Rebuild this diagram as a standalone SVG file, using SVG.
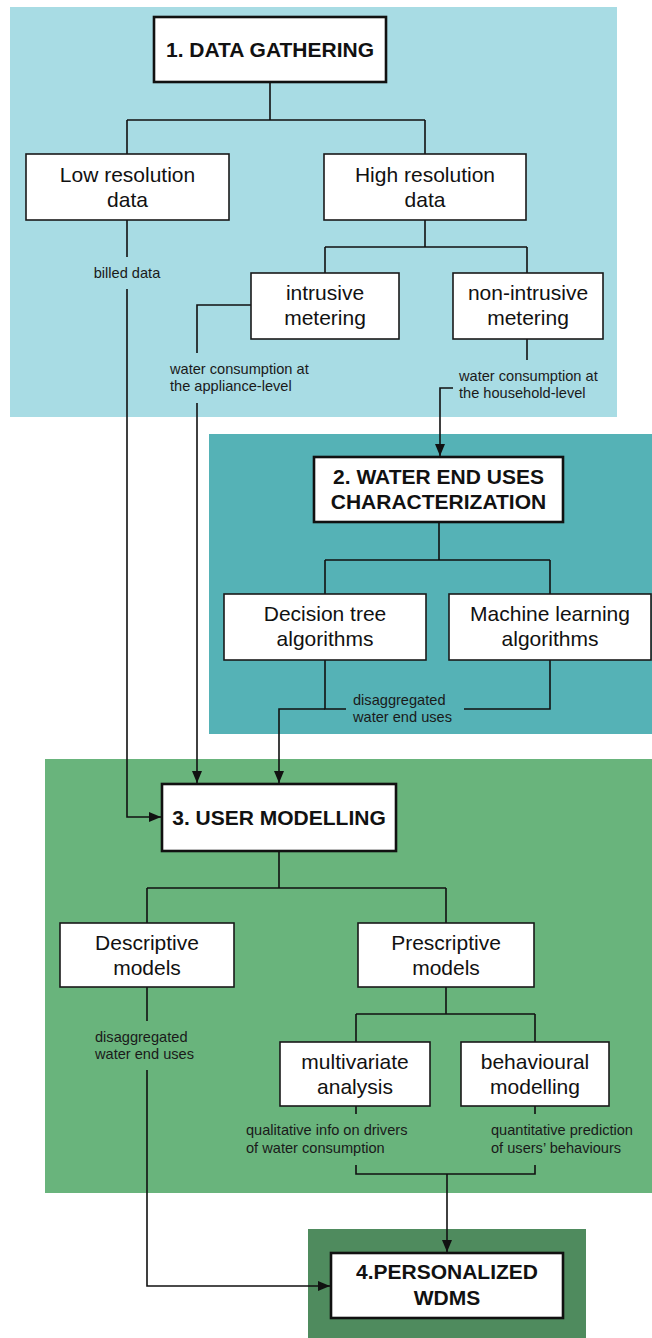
<svg xmlns="http://www.w3.org/2000/svg" width="652" height="1338" viewBox="0 0 652 1338">
  <style>
    .panel { stroke: none; }
    .box { fill: #ffffff; stroke: #1a1a1a; stroke-width: 1.6; }
    .title-box { fill: #ffffff; stroke: #111111; stroke-width: 2.6; }
    .txt { font-family: "Liberation Sans", Arial, Helvetica, sans-serif; font-size: 21px; fill: #111111; text-anchor: middle; }
    .title { font-family: "Liberation Sans", Arial, Helvetica, sans-serif; font-size: 21px; font-weight: bold; fill: #111111; text-anchor: middle; }
    .lbl { font-family: "Liberation Sans", Arial, Helvetica, sans-serif; font-size: 14.6px; fill: #1a1a1a; }
    .wire { fill: none; stroke: #111111; stroke-width: 1.6; }
    .arrow { fill: none; stroke: #111111; stroke-width: 1.6; marker-end: url(#head); }
  </style>
  <defs>
    <marker id="head" viewBox="0 0 12 10" markerWidth="12" markerHeight="10" refX="12" refY="5" markerUnits="userSpaceOnUse" orient="auto">
      <path d="M0,0 L12,5 L0,10 z" fill="#111111"/>
    </marker>
  </defs>

  <!-- stage backgrounds -->
  <g id="stages">
    <rect class="panel" x="10" y="7" width="607" height="410" fill="#A8DCE4"/>
    <rect class="panel" x="209" y="434" width="443" height="300" fill="#55B2B6"/>
    <rect class="panel" x="45" y="759" width="607" height="434" fill="#69B47C"/>
    <rect class="panel" x="308" y="1229" width="278" height="109" fill="#4F8B5E"/>
  </g>

  <!-- connectors and flow labels -->
  <g id="connectors">
    <!-- stage 1 tree -->
    <path class="wire" d="M270,82 V120 M127,120 H425 M127,120 V154 M425,120 V154"/>
    <path class="wire" d="M425,220 V247 M325,247 H527 M325,247 V273 M527,247 V273"/>
    <!-- billed data -->
    <path class="wire" d="M127,220 V257"/>
    <path class="arrow" d="M127,289 V817 H161"/>
    <!-- appliance-level -->
    <path class="wire" d="M251,305 H197 V353"/>
    <path class="arrow" d="M197,403 V783"/>
    <!-- household-level -->
    <path class="wire" d="M527,339 V360"/>
    <path class="arrow" d="M453,388 H440 V456"/>

    <!-- stage 2 tree -->
    <path class="wire" d="M439,522 V560 M325,560 H550 M325,560 V594 M550,560 V594"/>
    <path class="wire" d="M325,660 V709 H346"/>
    <path class="wire" d="M550,660 V709 H464"/>
    <path class="arrow" d="M325,709 H279 V783"/>

    <!-- stage 3 tree -->
    <path class="wire" d="M279,851 V888 M147,888 H446 M147,888 V923 M446,888 V923"/>
    <path class="wire" d="M446,987 V1014 M356,1014 H535 M356,1014 V1042 M535,1014 V1042"/>
    <path class="wire" d="M356,1106 V1114 M535,1106 V1114"/>
    <path class="wire" d="M356,1165 V1174 H535 V1165"/>
    <path class="arrow" d="M447,1174 V1252"/>
    <path class="wire" d="M147,987 V1021"/>
    <path class="arrow" d="M147,1070 V1286 H330"/>

    <text class="lbl" x="127" y="278" text-anchor="middle">billed data</text>
    <text class="lbl" x="170" y="374">water consumption at</text>
    <text class="lbl" x="170" y="391">the appliance-level</text>
    <text class="lbl" x="459" y="381">water consumption at</text>
    <text class="lbl" x="459" y="398">the household-level</text>
    <text class="lbl" x="353" y="705">disaggregated</text>
    <text class="lbl" x="353" y="722">water end uses</text>
    <text class="lbl" x="95" y="1042">disaggregated</text>
    <text class="lbl" x="95" y="1059">water end uses</text>
    <text class="lbl" x="246" y="1135">qualitative info on drivers</text>
    <text class="lbl" x="246" y="1153">of water consumption</text>
    <text class="lbl" x="491" y="1135">quantitative prediction</text>
    <text class="lbl" x="491" y="1153">of users’ behaviours</text>
  </g>

  <!-- stage 1 -->
  <g id="data-gathering">
    <rect class="title-box" x="154" y="17" width="232" height="65"/>
    <text class="title" x="270" y="57">1. DATA GATHERING</text>
  </g>
  <g id="low-resolution">
    <rect class="box" x="26" y="154" width="203" height="66"/>
    <text class="txt" x="127.5" y="182">Low resolution</text>
    <text class="txt" x="127.5" y="207">data</text>
  </g>
  <g id="high-resolution">
    <rect class="box" x="324" y="154" width="202" height="66"/>
    <text class="txt" x="425" y="182">High resolution</text>
    <text class="txt" x="425" y="207">data</text>
  </g>
  <g id="intrusive">
    <rect class="box" x="251" y="273" width="148" height="66"/>
    <text class="txt" x="325" y="300">intrusive</text>
    <text class="txt" x="325" y="325">metering</text>
  </g>
  <g id="non-intrusive">
    <rect class="box" x="453" y="273" width="150" height="66"/>
    <text class="txt" x="528" y="300">non-intrusive</text>
    <text class="txt" x="528" y="325">metering</text>
  </g>

  <!-- stage 2 -->
  <g id="end-uses">
    <rect class="title-box" x="314" y="457" width="249" height="65"/>
    <text class="title" x="438.5" y="484">2. WATER END USES</text>
    <text class="title" x="438.5" y="509">CHARACTERIZATION</text>
  </g>
  <g id="decision-tree">
    <rect class="box" x="224" y="594" width="202" height="66"/>
    <text class="txt" x="325" y="621">Decision tree</text>
    <text class="txt" x="325" y="646">algorithms</text>
  </g>
  <g id="machine-learning">
    <rect class="box" x="449" y="594" width="202" height="66"/>
    <text class="txt" x="550" y="621">Machine learning</text>
    <text class="txt" x="550" y="646">algorithms</text>
  </g>

  <!-- stage 3 -->
  <g id="user-modelling">
    <rect class="title-box" x="162" y="784" width="234" height="67"/>
    <text class="title" x="279" y="825">3. USER MODELLING</text>
  </g>
  <g id="descriptive">
    <rect class="box" x="60" y="923" width="174" height="64"/>
    <text class="txt" x="147" y="950">Descriptive</text>
    <text class="txt" x="147" y="975">models</text>
  </g>
  <g id="prescriptive">
    <rect class="box" x="358" y="923" width="176" height="64"/>
    <text class="txt" x="446" y="950">Prescriptive</text>
    <text class="txt" x="446" y="975">models</text>
  </g>
  <g id="multivariate">
    <rect class="box" x="280" y="1042" width="150" height="64"/>
    <text class="txt" x="355" y="1069">multivariate</text>
    <text class="txt" x="355" y="1094">analysis</text>
  </g>
  <g id="behavioural">
    <rect class="box" x="461" y="1042" width="148" height="64"/>
    <text class="txt" x="535" y="1069">behavioural</text>
    <text class="txt" x="535" y="1094">modelling</text>
  </g>

  <!-- stage 4 -->
  <g id="personalized-wdms">
    <rect class="title-box" x="331" y="1253" width="232" height="65"/>
    <text class="title" x="447" y="1279">4.PERSONALIZED</text>
    <text class="title" x="447" y="1305">WDMS</text>
  </g>
</svg>
